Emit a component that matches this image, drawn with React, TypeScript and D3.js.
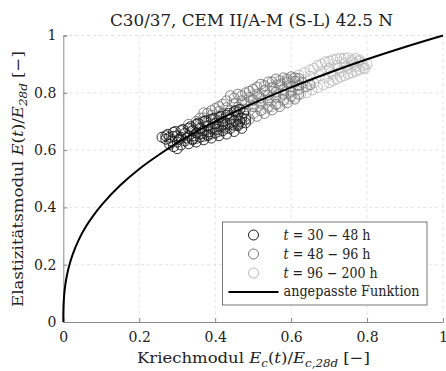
import React, { useRef, useEffect } from "react";
import * as d3 from "d3";

// axis ticks
const xTicks = [0, 0.2, 0.4, 0.6, 0.8, 1];
const yTicks = [0, 0.2, 0.4, 0.6, 0.8, 1];

// fitted curve
const fitX = [0, 0.0005, 0.002, 0.005, 0.01, 0.016, 0.025, 0.04, 0.06, 0.08, 0.1, 0.15, 0.2, 0.25, 0.3, 0.4, 0.5, 0.6, 0.7, 0.8, 0.9, 1];
const fitY = [0, 0.052, 0.089, 0.127, 0.166, 0.199, 0.237, 0.285, 0.334, 0.373, 0.407, 0.477, 0.534, 0.582, 0.625, 0.7, 0.763, 0.819, 0.87, 0.917, 0.96, 1];

// t = 30 - 48 h
const pts30to48: [number, number][] = [
  [0.27, 0.65], [0.29, 0.662], [0.31, 0.668], [0.33, 0.676], [0.35, 0.69], [0.37, 0.7], [0.39, 0.708], [0.41, 0.714], [0.43, 0.722], [0.45, 0.735], [0.465, 0.742],
  [0.275, 0.655], [0.295, 0.665], [0.315, 0.672], [0.335, 0.682], [0.355, 0.694], [0.375, 0.703], [0.395, 0.71], [0.415, 0.718], [0.435, 0.728], [0.455, 0.738],
  [0.28, 0.645], [0.3, 0.65], [0.32, 0.658], [0.34, 0.668], [0.36, 0.676], [0.38, 0.684], [0.4, 0.692], [0.42, 0.7], [0.44, 0.71], [0.46, 0.722], [0.475, 0.73],
  [0.27, 0.638], [0.29, 0.648], [0.31, 0.645], [0.33, 0.65], [0.35, 0.66], [0.37, 0.668], [0.39, 0.675], [0.41, 0.684], [0.43, 0.692], [0.45, 0.702], [0.47, 0.712],
  [0.285, 0.632], [0.305, 0.638], [0.325, 0.642], [0.345, 0.65], [0.365, 0.658], [0.385, 0.664], [0.405, 0.672], [0.425, 0.68], [0.445, 0.69], [0.465, 0.7], [0.48, 0.708],
  [0.28, 0.62], [0.3, 0.628], [0.32, 0.632], [0.34, 0.636], [0.36, 0.645], [0.38, 0.655], [0.4, 0.66], [0.42, 0.668], [0.44, 0.676], [0.46, 0.69], [0.48, 0.695],
  [0.29, 0.612], [0.31, 0.618], [0.33, 0.622], [0.35, 0.628], [0.37, 0.636], [0.39, 0.642], [0.41, 0.65], [0.43, 0.656], [0.45, 0.665], [0.47, 0.676],
  [0.26, 0.645], [0.3, 0.605], [0.34, 0.64], [0.38, 0.65], [0.42, 0.69], [0.46, 0.685],
];

// t = 48 - 96 h
const pts48to96: [number, number][] = [
  [0.36, 0.712], [0.38, 0.728], [0.4, 0.745], [0.42, 0.76], [0.44, 0.79], [0.46, 0.795], [0.48, 0.8], [0.5, 0.812], [0.52, 0.83], [0.54, 0.838], [0.56, 0.848], [0.58, 0.852], [0.6, 0.856], [0.62, 0.85],
  [0.37, 0.73], [0.39, 0.738], [0.41, 0.752], [0.43, 0.772], [0.45, 0.782], [0.47, 0.79], [0.49, 0.805], [0.51, 0.82], [0.53, 0.825], [0.55, 0.838], [0.57, 0.842], [0.59, 0.848], [0.61, 0.852],
  [0.33, 0.69], [0.35, 0.7], [0.37, 0.712], [0.39, 0.722], [0.41, 0.735], [0.43, 0.748], [0.45, 0.762], [0.47, 0.772], [0.49, 0.784], [0.51, 0.795], [0.53, 0.808], [0.55, 0.818], [0.57, 0.828], [0.59, 0.836], [0.61, 0.84], [0.63, 0.835], [0.65, 0.828],
  [0.34, 0.678], [0.36, 0.69], [0.38, 0.7], [0.4, 0.712], [0.42, 0.728], [0.44, 0.738], [0.46, 0.75], [0.48, 0.762], [0.5, 0.775], [0.52, 0.782], [0.54, 0.792], [0.56, 0.802], [0.58, 0.812], [0.6, 0.822], [0.62, 0.826], [0.64, 0.822],
  [0.34, 0.665], [0.36, 0.675], [0.38, 0.685], [0.4, 0.695], [0.42, 0.708], [0.44, 0.72], [0.46, 0.732], [0.48, 0.742], [0.5, 0.752], [0.52, 0.764], [0.54, 0.775], [0.56, 0.785], [0.58, 0.795], [0.6, 0.805], [0.62, 0.812],
  [0.36, 0.655], [0.38, 0.662], [0.4, 0.675], [0.42, 0.685], [0.44, 0.695], [0.46, 0.708], [0.48, 0.718], [0.5, 0.728], [0.52, 0.738], [0.54, 0.75], [0.56, 0.76], [0.58, 0.775], [0.6, 0.788], [0.62, 0.795],
  [0.35, 0.64], [0.37, 0.648], [0.39, 0.656], [0.41, 0.665], [0.43, 0.675], [0.45, 0.685], [0.47, 0.695], [0.49, 0.708], [0.51, 0.718], [0.53, 0.728], [0.55, 0.74], [0.57, 0.752], [0.59, 0.765], [0.61, 0.778],
];

// t = 96 - 200 h
const pts96to200: [number, number][] = [
  [0.5, 0.79], [0.53, 0.808], [0.56, 0.825], [0.59, 0.842], [0.62, 0.862], [0.65, 0.88], [0.67, 0.895], [0.69, 0.908], [0.71, 0.915], [0.73, 0.92], [0.75, 0.922], [0.77, 0.92],
  [0.485, 0.775], [0.515, 0.79], [0.545, 0.815], [0.575, 0.832], [0.605, 0.85], [0.635, 0.87], [0.66, 0.885], [0.68, 0.9], [0.7, 0.91], [0.72, 0.918], [0.74, 0.92], [0.76, 0.915], [0.78, 0.915],
  [0.47, 0.76], [0.5, 0.772], [0.53, 0.788], [0.56, 0.805], [0.59, 0.822], [0.62, 0.84], [0.65, 0.858], [0.68, 0.874], [0.7, 0.885], [0.72, 0.895], [0.74, 0.902], [0.76, 0.908], [0.78, 0.91], [0.8, 0.9],
  [0.465, 0.745], [0.495, 0.758], [0.525, 0.77], [0.555, 0.79], [0.585, 0.805], [0.615, 0.825], [0.645, 0.842], [0.675, 0.86], [0.705, 0.872], [0.725, 0.885], [0.745, 0.892], [0.765, 0.9], [0.785, 0.903], [0.795, 0.885],
  [0.48, 0.74], [0.51, 0.752], [0.54, 0.768], [0.57, 0.785], [0.6, 0.8], [0.63, 0.818], [0.66, 0.835], [0.69, 0.852], [0.71, 0.865], [0.73, 0.875], [0.75, 0.885], [0.77, 0.892], [0.79, 0.895],
  [0.535, 0.745], [0.565, 0.76], [0.595, 0.778], [0.625, 0.795], [0.655, 0.81], [0.685, 0.828], [0.71, 0.842], [0.73, 0.855], [0.75, 0.865], [0.77, 0.875], [0.79, 0.885],
  [0.52, 0.738], [0.55, 0.752], [0.58, 0.768], [0.61, 0.785], [0.64, 0.8], [0.67, 0.818], [0.7, 0.835], [0.72, 0.848], [0.74, 0.86], [0.76, 0.87], [0.78, 0.88],
];

const seriesRanges = ["30 − 48", "48 − 96", "96 − 200"];
const seriesColors = ["#1c1c1c", "#767676", "#bababa"];
const seriesPts = [pts30to48, pts48to96, pts96to200];

const FONT = "'DejaVu Serif', 'Liberation Serif', serif";

type Seg = { s: string; i?: boolean; sub?: boolean };

// append text pieces with italic / subscript parts
function richText(sel: any, segs: Seg[], size: number) {
  let inSub = false;
  segs.forEach((seg) => {
    const ts = sel
      .append("tspan")
      .text(seg.s)
      .attr("font-style", seg.i ? "italic" : "normal")
      .attr("font-size", seg.sub ? size * 0.72 : size);
    if (seg.sub && !inSub) ts.attr("dy", size * 0.28);
    if (!seg.sub && inSub) ts.attr("dy", -size * 0.28);
    inSub = !!seg.sub;
  });
}

const App = () => {
  const svgRef = useRef<SVGSVGElement>(null);

  useEffect(() => {
    const W = 446;
    const H = 371;
    const margin = { top: 35.5, right: 3, bottom: 49, left: 63.3 };
    const width = W - margin.left - margin.right;
    const height = H - margin.top - margin.bottom;

    const svg = d3.select(svgRef.current).attr("width", W).attr("height", H);
    svg.selectAll("*").remove();
    svg.append("rect").attr("width", W).attr("height", H).attr("fill", "white");

    const chart = svg
      .append("g")
      .attr("transform", `translate(${margin.left}, ${margin.top})`);

    const x = d3.scaleLinear().domain([0, 1]).range([0, width]);
    const y = d3.scaleLinear().domain([0, 1]).range([height, 0]);

    // grid
    chart
      .selectAll(".vgrid")
      .data(xTicks.slice(1))
      .enter()
      .append("line")
      .attr("x1", (d) => x(d))
      .attr("x2", (d) => x(d))
      .attr("y1", 0)
      .attr("y2", height)
      .attr("stroke", "#dcdcdc")
      .attr("stroke-width", 0.8)
      .attr("stroke-dasharray", "3,3");
    chart
      .selectAll(".hgrid")
      .data(yTicks.slice(1))
      .enter()
      .append("line")
      .attr("x1", 0)
      .attr("x2", width)
      .attr("y1", (d) => y(d))
      .attr("y2", (d) => y(d))
      .attr("stroke", "#dcdcdc")
      .attr("stroke-width", 0.8)
      .attr("stroke-dasharray", "3,3");

    // axes
    const xAxis = d3.axisBottom(x).tickValues(xTicks).tickSize(-4).tickPadding(10).tickFormat(d3.format("~g"));
    const yAxis = d3.axisLeft(y).tickValues(yTicks).tickSize(-4).tickPadding(7).tickFormat(d3.format("~g"));
    const gx = chart.append("g").attr("transform", `translate(0, ${height})`).call(xAxis);
    const gy = chart.append("g").call(yAxis);
    [gx, gy].forEach((g) => {
      g.select(".domain").attr("stroke", "#8a8a8a").attr("stroke-width", 1);
      g.selectAll(".tick line").attr("stroke", "#8a8a8a");
      g.selectAll(".tick text")
        .attr("font-family", FONT)
        .attr("font-size", 14)
        .attr("fill", "#222");
    });

    // scatter, light series first
    [2, 1, 0].forEach((k) => {
      chart
        .append("g")
        .selectAll("circle")
        .data(seriesPts[k])
        .enter()
        .append("circle")
        .attr("cx", (d) => x(d[0]))
        .attr("cy", (d) => y(d[1]))
        .attr("r", 5)
        .attr("fill", "none")
        .attr("stroke", seriesColors[k])
        .attr("stroke-width", 0.9);
    });

    // fitted curve
    const line = d3
      .line<number>()
      .x((d) => x(d))
      .y((_, i) => y(fitY[i]))
      .curve(d3.curveCatmullRom.alpha(0.5));
    chart
      .append("path")
      .attr("d", line(fitX))
      .attr("fill", "none")
      .attr("stroke", "black")
      .attr("stroke-width", 2);

    // title
    svg
      .append("text")
      .attr("x", 110)
      .attr("y", 26)
      .attr("font-family", FONT)
      .attr("font-size", 16)
      .attr("fill", "#222")
      .attr("textLength", 283)
      .attr("lengthAdjust", "spacingAndGlyphs")
      .text("C30/37, CEM II/A-M (S-L) 42.5 N");

    // x label
    const xl = svg
      .append("text")
      .attr("x", 137)
      .attr("y", 363)
      .attr("font-family", FONT)
      .attr("fill", "#222")
      .attr("textLength", 233)
      .attr("lengthAdjust", "spacingAndGlyphs")
      .style("white-space", "pre");
    richText(
      xl,
      [
        { s: "Kriechmodul " },
        { s: "E", i: true },
        { s: "c", i: true, sub: true },
        { s: "(" },
        { s: "t", i: true },
        { s: ")/" },
        { s: "E", i: true },
        { s: "c,28d", i: true, sub: true },
        { s: " [−]" },
      ],
      15.5
    );

    // y label
    const yl = svg
      .append("text")
      .attr("transform", `translate(23, 307) rotate(-90)`)
      .attr("font-family", FONT)
      .attr("fill", "#222")
      .attr("textLength", 256)
      .attr("lengthAdjust", "spacingAndGlyphs")
      .style("white-space", "pre");
    richText(
      yl,
      [
        { s: "Elastizitätsmodul " },
        { s: "E", i: true },
        { s: "(" },
        { s: "t", i: true },
        { s: ")/" },
        { s: "E", i: true },
        { s: "28d", i: true, sub: true },
        { s: " [−]" },
      ],
      15.5
    );

    // legend
    const lg = svg.append("g").attr("transform", "translate(222.5, 222)");
    lg.append("rect")
      .attr("width", 204.5)
      .attr("height", 83)
      .attr("fill", "white")
      .attr("stroke", "#555")
      .attr("stroke-width", 0.8);
    const legLens = [87, 87, 94];
    seriesRanges.forEach((r, k) => {
      const cy = 13 + k * 19;
      lg.append("circle")
        .attr("cx", 31)
        .attr("cy", cy)
        .attr("r", 5)
        .attr("fill", "none")
        .attr("stroke", seriesColors[k])
        .attr("stroke-width", 1);
      const t = lg
        .append("text")
        .attr("x", 61)
        .attr("y", cy + 5)
        .attr("font-family", FONT)
        .attr("fill", "#222")
        .attr("textLength", legLens[k])
        .attr("lengthAdjust", "spacingAndGlyphs")
        .style("white-space", "pre");
      richText(t, [{ s: "t", i: true }, { s: " = " + r + " h" }], 14);
    });
    lg.append("line")
      .attr("x1", 6)
      .attr("x2", 56)
      .attr("y1", 70)
      .attr("y2", 70)
      .attr("stroke", "black")
      .attr("stroke-width", 2);
    lg.append("text")
      .attr("x", 61)
      .attr("y", 74)
      .attr("font-family", FONT)
      .attr("font-size", 14)
      .attr("fill", "#222")
      .attr("textLength", 136)
      .attr("lengthAdjust", "spacingAndGlyphs")
      .text("angepasste Funktion");
  }, []);

  return (
    <div style={{ position: "absolute", left: 0, top: 0 }}>
      <svg ref={svgRef} style={{ display: "block" }}></svg>
    </div>
  );
};

export default App;
